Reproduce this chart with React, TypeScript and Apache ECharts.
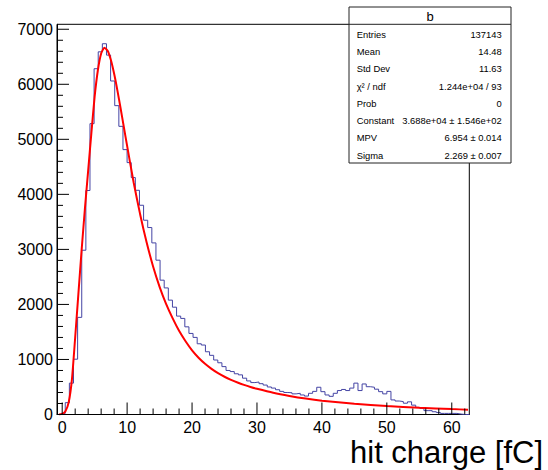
import React, { useEffect, useRef } from 'react';
import * as echarts from 'echarts';

// ---- axis / binning ----
const xMin = -0.8;
const xMax = 62.7;
const binWidth = 0.635;
const yMax = 7090;

// ---- histogram bin contents (100 bins) ----
const binCounts = [
  0, 20, 215, 570, 1005, 1765, 2985, 4070, 5285, 6283,
  6590, 6737, 6530, 6060, 5612, 5236, 4813, 4577, 4305, 4074,
  3802, 3530, 3397, 3118, 2804, 2441, 2300, 2078, 1950, 1788,
  1746, 1593, 1473, 1401, 1285, 1262, 1140, 1075, 990, 940,
  870, 800, 780, 740, 720, 660, 610, 580, 590, 560,
  535, 500, 480, 450, 420, 400, 395, 375, 385, 355,
  335, 385, 420, 495, 415, 355, 330, 385, 435, 455,
  435, 480, 570, 435, 555, 505, 495, 460, 415, 375,
  420, 265, 245, 235, 205, 230, 170, 130, 110, 70,
  70, 50, 35, 20, 20, 20, 20, 8, 0, 0,
];

// ---- fit curve ----
const fitX = [-0.5, 0, 0.5, 1, 1.5, 2, 2.5, 3, 3.5, 4, 4.5, 5, 5.5, 6, 6.5, 7, 7.5, 8, 8.5, 9, 9.5, 10, 11, 12, 13, 14, 15, 16, 17, 18, 19, 20, 21, 22, 23, 24, 25, 26, 27, 28, 29, 30, 32.5, 35, 37.5, 40, 45, 50, 55, 60, 62.5];
const fitY = [0, 10, 60, 220, 640, 1400, 2200, 3000, 3740, 4430, 5120, 5780, 6260, 6560, 6665, 6610, 6440, 6190, 5890, 5560, 5220, 4880, 4220, 3640, 3130, 2690, 2320, 2010, 1750, 1520, 1330, 1165, 1032, 922, 830, 752, 686, 630, 581, 538, 500, 467, 395, 338, 290, 252, 195, 153, 122, 98, 88];

// ---- ticks ----
const xTickStep = 2;
const xTickLast = 62;
const xMajorEvery = 10;
const yTickStep = 200;
const yTickLast = 7000;
const yMajorEvery = 1000;

// ---- texts ----
const xAxisTitle = 'hit charge [fC]';
const statsTitle = 'b';
const statLabels = ['Entries', 'Mean', 'Std Dev', 'χ² / ndf', 'Prob', 'Constant', 'MPV', 'Sigma'];
const statValues = ['137143', '14.48', '11.63', '1.244e+04 / 93', '0', '3.688e+04 ± 1.546e+02', '6.954 ± 0.014', '2.269 ± 0.007'];

const FONT = "'Liberation Sans', Arial, Helvetica, sans-serif";

function buildOption() {
  const histData: number[][] = binCounts.map((v, i) => [xMin + i * binWidth, v]);
  histData.push([xMin + binCounts.length * binWidth, binCounts[binCounts.length - 1]]);

  const fitData = fitX.map((x, i) => [x, fitY[i]]);

  const xTicks: number[][] = [];
  for (let t = 0; t <= xTickLast + 1e-9; t += xTickStep) {
    xTicks.push([t, Math.abs(t % xMajorEvery) < 1e-9 ? 1 : 0]);
  }
  const yTicks: number[][] = [];
  for (let t = 0; t <= yTickLast + 1e-9; t += yTickStep) {
    yTicks.push([t, Math.abs(t % yMajorEvery) < 1e-9 ? 1 : 0]);
  }

  const boxX = 349, boxY = 7, boxW = 162, boxH = 156;
  const rowY0 = 34.3, rowStep = 17.25;
  const graphics: any[] = [
    {
      type: 'rect', z: 100,
      shape: { x: boxX, y: boxY, width: boxW, height: boxH },
      style: { fill: '#fff', stroke: '#222', lineWidth: 1 },
    },
    {
      type: 'line', z: 101,
      shape: { x1: boxX, y1: 24.3, x2: boxX + boxW, y2: 24.3 },
      style: { stroke: '#222', lineWidth: 1 },
    },
    {
      type: 'text', z: 101, x: 430, y: 16,
      style: { text: statsTitle, font: `13px ${FONT}`, fill: '#000', textAlign: 'center', textVerticalAlign: 'middle' },
    },
    {
      type: 'text', z: 101, x: 543, y: 452,
      style: { text: xAxisTitle, font: `31px ${FONT}`, fill: '#000', textAlign: 'right', textVerticalAlign: 'middle' },
    },
  ];
  statLabels.forEach((lab, i) => {
    graphics.push({
      type: 'text', z: 101, x: 356.7, y: rowY0 + i * rowStep,
      style: { text: lab, font: `9.4px ${FONT}`, fill: '#000', textAlign: 'left', textVerticalAlign: 'middle' },
    });
    graphics.push({
      type: 'text', z: 101, x: 501.7, y: rowY0 + i * rowStep,
      style: { text: statValues[i], font: `9.4px ${FONT}`, fill: '#000', textAlign: 'right', textVerticalAlign: 'middle' },
    });
  });

  return {
    animation: false,
    backgroundColor: '#fff',
    grid: {
      left: 57, top: 24.3, width: 412.3, height: 390.2,
      show: true, borderColor: '#000', borderWidth: 1, backgroundColor: 'transparent',
    },
    xAxis: {
      type: 'value', min: xMin, max: xMax,
      splitLine: { show: false },
      axisTick: { show: false },
      axisLine: { show: true, onZero: false, lineStyle: { color: '#000', width: 1 } },
      axisLabel: {
        color: '#000', fontSize: 16, fontFamily: FONT, margin: 5,
        formatter: (v: number) => (Math.abs(v % 10) < 1e-6 ? String(Math.round(v)) : ''),
      },
    },
    yAxis: {
      type: 'value', min: 0, max: yMax,
      splitLine: { show: false },
      axisTick: { show: false },
      axisLine: { show: true, onZero: false, lineStyle: { color: '#000', width: 1 } },
      axisLabel: {
        color: '#000', fontSize: 16, fontFamily: FONT, margin: 4,
        formatter: (v: number) => (Math.abs(v % 1000) < 1e-6 ? String(Math.round(v)) : ''),
      },
    },
    graphic: graphics,
    series: [
      {
        type: 'line', data: histData, step: 'end', showSymbol: false, symbol: 'none',
        lineStyle: { color: '#4444a4', width: 1 }, z: 3,
      },
      {
        type: 'line', data: fitData, smooth: 0.2, showSymbol: false, symbol: 'none',
        lineStyle: { color: '#ff0000', width: 2 }, z: 4,
      },
      {
        type: 'custom', data: xTicks, clip: false, z: 5, silent: true,
        renderItem: (_p: any, api: any) => {
          const pt = api.coord([api.value(0), 0]);
          const len = api.value(1) ? 12 : 6;
          return {
            type: 'line',
            shape: { x1: pt[0], y1: pt[1], x2: pt[0], y2: pt[1] - len },
            style: { stroke: '#000', lineWidth: 1 },
          };
        },
      },
      {
        type: 'custom', data: yTicks.map((t) => [xMin, t[0], t[1]]), clip: false, z: 5, silent: true,
        renderItem: (_p: any, api: any) => {
          const pt = api.coord([api.value(0), api.value(1)]);
          const len = api.value(2) ? 12 : 6;
          return {
            type: 'line',
            shape: { x1: pt[0], y1: pt[1], x2: pt[0] + len, y2: pt[1] },
            style: { stroke: '#000', lineWidth: 1 },
          };
        },
      },
    ],
  };
}

export default function App() {
  const ref = useRef<HTMLDivElement>(null);
  useEffect(() => {
    if (!ref.current) return;
    const chart = echarts.init(ref.current, null, { renderer: 'svg' });
    chart.setOption(buildOption() as any);
    return () => chart.dispose();
  }, []);
  return (
    <div
      ref={ref}
      style={{ position: 'fixed', left: 0, top: 0, width: 548, height: 470, background: '#fff' }}
    />
  );
}
